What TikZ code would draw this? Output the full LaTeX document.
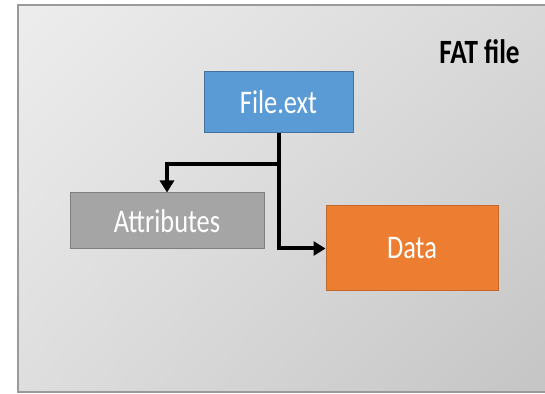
\documentclass[tikz,border=0pt]{standalone}
\usepackage{graphicx}
\usepackage{fontspec}
\setmainfont{Carlito}
\usetikzlibrary{arrows.meta,shadings}
\definecolor{bluefill}{HTML}{5B9BD5}
\definecolor{blueline}{HTML}{41719C}
\definecolor{grayfill}{HTML}{A5A5A5}
\definecolor{grayline}{HTML}{7F7F7F}
\definecolor{orangefill}{HTML}{ED7D31}
\definecolor{orangeline}{HTML}{C0692A}
\definecolor{frameline}{HTML}{9A9A9A}
\definecolor{bgul}{HTML}{EDEDED}
\definecolor{bgur}{HTML}{D8D8D8}
\definecolor{bgll}{HTML}{DEDEDE}
\definecolor{bglr}{HTML}{C4C4C4}
\newcommand{\narrowtext}[1]{\scalebox{0.8}[1]{#1}}
\tikzset{
  box/.style={draw, line width=1pt, inner sep=0pt, text=white, font=\fontsize{33}{38}\selectfont},
  arr/.style={line width=4pt, line join=miter, -{Triangle[length=12pt,width=14pt]}},
}
\begin{document}
\begin{tikzpicture}[x=1pt,y=1pt]
\useasboundingbox (0,0) rectangle (545,393);
\clip (0,0) rectangle (545,393);
\fill[white] (0,0) rectangle (545,393);
\shade[upper left=bgul, upper right=bgur, lower left=bgll, lower right=bglr]
  (18,1) rectangle (560,388);
\draw[frameline, line width=1.2pt] (18,1) rectangle (560,388);
\node[font=\bfseries\fontsize{34}{38}\selectfont, inner sep=0pt] (title) at (479.5,341) {\narrowtext{FAT file}};
\node[box, fill=bluefill, draw=blueline, minimum width=149pt, minimum height=61pt] (file) at (278.5,290.5) {\narrowtext{File.ext}};
\node[box, fill=grayfill, draw=grayline, minimum width=194pt, minimum height=56pt] (attr) at (167,172) {\narrowtext{Attributes}};
\node[box, fill=orangefill, draw=orangeline, minimum width=172pt, minimum height=85pt] (data) at (412,144.5) {\narrowtext{Data}};
\coordinate (j) at (278.5,229);
\draw[arr] (file.south) -- (j) -| (attr.north);
\draw[arr] (j) |- (data.west);
\end{tikzpicture}
\end{document}
